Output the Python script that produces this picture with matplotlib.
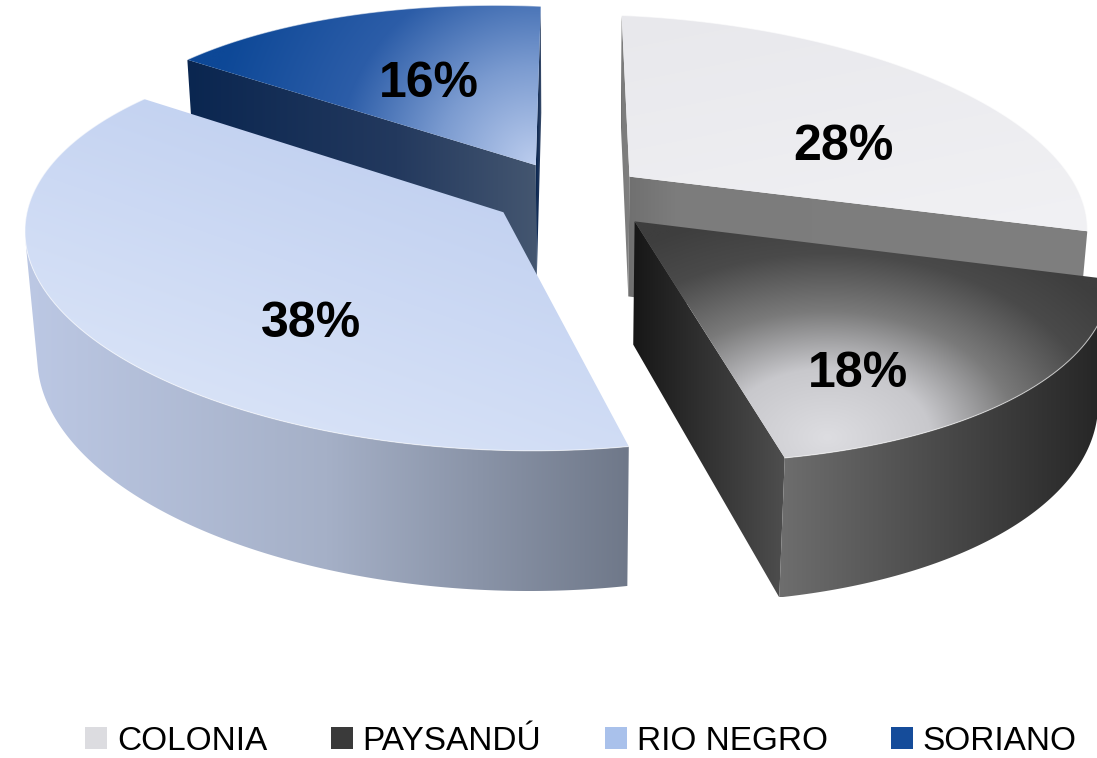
import numpy as np
import matplotlib
matplotlib.use("Agg")
import matplotlib.pyplot as plt
from matplotlib.patches import Polygon, Patch
from matplotlib.colors import to_rgb

regions = ["COLONIA", "PAYSANDÚ", "RIO NEGRO", "SORIANO"]
shares = [28, 18, 38, 16]
legend_colors = ["#dcdce0", "#3a3a3a", "#a9c1eb", "#154c9a"]

# camera / pie geometry (pixel space of the 1097x758 canvas)
elev = np.radians(24.75)
cam_dist = 5.675
focal = 2611.0
cx, cy = 572.0, 194.2
thick = 0.297
tilt = 0.045
explode = [0.165, 0.183, 0.181, 0.167]
label_r = [0.55, 0.75, 0.64, 0.54]
label_frac = [0.64, 0.705, 0.357, 0.50]

# face shading: gradient stops per slice
top_style = [
    ("linear", (0.2, 1.0), [(0, "#e8e8ec"), (1, "#f1f1f4")]),
    ("radial", 230, [(0, "#dddde1"), (0.3, "#c8c8cc"), (0.55, "#7a7a7a"),
                     (0.8, "#4a4a4a"), (1, "#3e3e3e")]),
    ("linear", (-0.35, 1.0), [(0, "#b9caee"), (1, "#dfe8f9")]),
    ("radial", 330, [(0, "#bccdee"), (0.3, "#7b9bd0"), (0.6, "#2c5da8"),
                     (1, "#0d4897")]),
]
side_style = [
    [(0, "#a0a0a0"), (1, "#8a8a8a")],
    [(0, "#6e6e6e"), (1, "#242424")],
    [(0, "#bcc8e4"), (0.5, "#a5b0c7"), (1, "#6f7889")],
    [(0, "#123f80"), (1, "#0a2c60")],
]
cut_style = [
    [(0, "#707070"), (0.1, "#7c7c7c"), (1, "#7f7f7f")],
    [(0, "#171717"), (1, "#4e4e4e")],
    [(0, "#7c879c"), (1, "#6f7889")],
    [(0, "#0a2650"), (0.6, "#23395e"), (1, "#445670")],
]

s_el, c_el = np.sin(elev), np.cos(elev)
cam = np.array([0.0, -cam_dist * c_el])


def project(x, y, z):
    z = z - tilt * x
    d = cam_dist + y * c_el - z * s_el
    return cx + focal * x / d, cy - focal * (y * s_el + z * c_el) / d


def shade(ax, xs, ys, stops, z, mode="linear", direction=(1.0, 0.0),
          anchor=None, radius=None, stretch=1.0):
    xs, ys = np.asarray(xs), np.asarray(ys)
    xy = np.column_stack([xs, ys])
    patch = Polygon(xy, closed=True, fc="none", ec="none")
    ax.add_patch(patch)
    x0, x1, y0, y1 = xs.min(), xs.max(), ys.min(), ys.max()
    nx, ny = int(x1 - x0) + 3, int(y1 - y0) + 3
    gx, gy = np.meshgrid(np.linspace(x0, x1, nx), np.linspace(y0, y1, ny))
    if mode == "radial":
        t = np.hypot((gx - anchor[0]) / stretch, gy - anchor[1]) / radius
    else:
        t = gx * direction[0] + gy * direction[1]
        t = (t - t.min()) / (np.ptp(t) + 1e-9)
    t = np.clip(t, 0, 1)
    pos = [p for p, _ in stops]
    cols = np.array([to_rgb(c) for _, c in stops])
    img = np.dstack([np.interp(t, pos, cols[:, k]) for k in range(3)])
    im = ax.imshow(img, extent=(x0, x1, y1, y0), origin="upper",
                   interpolation="bilinear", zorder=z, aspect="auto")
    im.set_clip_path(patch)


fig = plt.figure(figsize=(10.97, 7.58), dpi=100)
ax = fig.add_axes([0, 0, 1, 1])
ax.axis("off")

bounds = np.concatenate([[0], np.cumsum(shares)]) / sum(shares) * 360
mids = (bounds[:-1] + bounds[1:]) / 2
order = sorted(range(len(shares)),
               key=lambda i: -(explode[i] + 0.5) * np.cos(np.radians(mids[i])))

z = 1
for i in order:
    a0, a1 = bounds[i], bounds[i + 1]
    m = np.radians(mids[i])
    ox, oy = explode[i] * np.sin(m), explode[i] * np.cos(m)
    ph = np.radians(np.linspace(a0, a1, 300))
    rx, ry = ox + np.sin(ph), oy + np.cos(ph)
    tx, ty = project(rx, ry, 0.0)
    bx, by = project(rx, ry, -thick)
    ax_t, ay_t = project(ox, oy, 0.0)
    ax_b, ay_b = project(ox, oy, -thick)

    # cut faces along the two radii
    for ang, sgn in ((a0, -1), (a1, 1)):
        n = np.array([np.sin(np.radians(ang + sgn * 90)),
                      np.cos(np.radians(ang + sgn * 90))])
        if np.dot(cam - np.array([ox, oy]), n) > 0:
            ex, ey = ox + np.sin(np.radians(ang)), oy + np.cos(np.radians(ang))
            px0, py0 = project(ex, ey, 0.0)
            px1, py1 = project(ex, ey, -thick)
            shade(ax, [ax_t, px0, px1, ax_b], [ay_t, py0, py1, ay_b],
                  cut_style[i], z)
            z += 1

    # curved outer wall, only the part facing the camera
    facing = (cam[0] - rx) * np.sin(ph) + (cam[1] - ry) * np.cos(ph) > 0
    if facing.any():
        k = np.where(facing)[0]
        runs = np.split(k, np.where(np.diff(k) > 1)[0] + 1)
        for rn in runs:
            if len(rn) < 2:
                continue
            xs = np.concatenate([tx[rn], bx[rn][::-1]])
            ys = np.concatenate([ty[rn], by[rn][::-1]])
            shade(ax, xs, ys, side_style[i], z)
            z += 1

    # top face
    xs = np.concatenate([[ax_t], tx])
    ys = np.concatenate([[ay_t], ty])
    mode, arg, stops = top_style[i]
    if mode == "radial":
        if i == 1:
            anchor = project(ox + 0.95 * np.sin(np.radians(a1 - 6)),
                             oy + 0.95 * np.cos(np.radians(a1 - 6)), 0.0)
            shade(ax, xs, ys, stops, z, mode="radial", anchor=anchor,
                  radius=arg, stretch=1.5)
        else:
            shade(ax, xs, ys, stops, z, mode="radial", anchor=(ax_t, ay_t),
                  radius=arg)
    else:
        shade(ax, xs, ys, stops, z, direction=arg)
    ax.plot(tx, ty, color="white", lw=0.8, alpha=0.55, zorder=z + 0.5)
    z += 1

    # percentage label on the top face
    la = np.radians(a0 + label_frac[i] * (a1 - a0))
    lx, ly = project(ox + label_r[i] * np.sin(la), oy + label_r[i] * np.cos(la), 0.0)
    ax.annotate(f"{shares[i]}%", (lx, ly), xytext=(0, -3), textcoords="offset points",
                ha="center", va="center", fontsize=36, fontweight="bold",
                family=["Liberation Sans", "DejaVu Sans"], color="black", zorder=50)

handles = [Patch(facecolor=c, edgecolor="none") for c in legend_colors]
ax.legend(handles, regions, loc="center", bbox_to_anchor=(581 / 1097, 1 - 741 / 758),
          ncol=4, frameon=False,
          prop=dict(family=["Liberation Sans", "DejaVu Sans"], size=24),
          handlelength=0.66, handleheight=0.66, handletextpad=0.3,
          columnspacing=1.9)

ax.set_xlim(0, 1097)
ax.set_ylim(758, 0)
fig.savefig("out.png", dpi=100, facecolor="white")
